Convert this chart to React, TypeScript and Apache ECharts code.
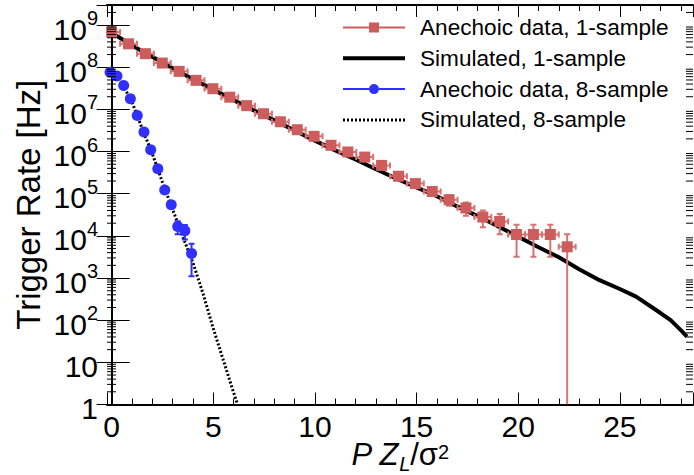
import { useEffect, useRef } from 'react';
import * as echarts from 'echarts';

const FONT = '"Liberation Sans", Arial, Helvetica, sans-serif';

const X_MIN = -0.23;
const X_MAX = 28.6;
const Y_MIN = 1;
const Y_MAX = 3e9;

const NAME_D1 = 'Anechoic data, 1-sample';
const NAME_S1 = 'Simulated, 1-sample';
const NAME_D8 = 'Anechoic data, 8-sample';
const NAME_S8 = 'Simulated, 8-sample';

// Anechoic data, 1-sample
const data1X = [0, 0.83, 1.66, 2.49, 3.32, 4.15, 4.98, 5.81, 6.64, 7.47, 8.3, 9.13, 9.96, 10.79, 11.62, 12.45, 13.28, 14.11, 14.94, 15.77, 16.6, 17.43, 18.26, 19.09, 19.92, 20.75, 21.58, 22.41];
const data1Y = [6.9e8, 3.6e8, 2.1e8, 1.26e8, 8.0e7, 4.9e7, 3.1e7, 1.95e7, 1.23e7, 7.9e6, 5.1e6, 3.3e6, 2.3e6, 1.41e6, 9.8e5, 7.4e5, 4.7e5, 2.6e5, 1.74e5, 1.13e5, 7.2e4, 4.6e4, 2.8e4, 2.2e4, 1.08e4, 1.08e4, 1.08e4, 5.5e3];
const data1YErr = [1.9e6, 1.4e6, 1.1e6, 8.2e5, 6.6e5, 5.1e5, 4.1e5, 3.2e5, 2.6e5, 2.1e5, 1.66e5, 1.33e5, 1.11e5, 8.7e4, 7.3e4, 6.3e4, 5.0e4, 3.7e4, 3.1e4, 2.5e4, 2.0e4, 1.6e4, 1.2e4, 1.1e4, 7.6e3, 7.6e3, 7.6e3, 5.5e3];
const data1XErr = 0.415;

// Simulated, 1-sample
const sim1X = [0, 1, 2, 3, 4, 5, 6, 7, 8, 9, 10, 11, 12, 13, 14, 15, 16, 17, 18, 19, 20, 21, 22, 23, 24, 25, 25.8, 27, 27.5, 28, 28.3];
const sim1Y = [6.6e8, 3.3e8, 1.78e8, 9.5e7, 5.2e7, 2.95e7, 1.66e7, 9.5e6, 5.5e6, 3.16e6, 1.82e6, 1.07e6, 6.5e5, 3.8e5, 2.3e5, 1.41e5, 8.7e4, 5.0e4, 2.95e4, 1.7e4, 9.5e3, 5.4e3, 3.1e3, 1.62e3, 890, 550, 363, 148, 100, 58, 41];

// Anechoic data, 8-sample
const data8X = [-0.08, 0.26, 0.59, 0.92, 1.26, 1.59, 1.92, 2.27, 2.61, 2.93, 3.25, 3.6, 3.93];
const data8Y = [7.6e7, 6.2e7, 3.7e7, 1.8e7, 7.2e6, 2.9e6, 1.1e6, 3.9e5, 1.23e5, 5.5e4, 1.66e4, 1.32e4, 3.8e3];
const data8YErr = [3.8e5, 3.4e5, 2.65e5, 1.85e5, 1.17e5, 7.4e4, 4.6e4, 2.7e4, 1.5e4, 1.0e4, 5.6e3, 5.0e3, 2.7e3];
const data8XErr = 0.167;

// Simulated, 8-sample
const sim8X = [0, 0.5, 1.0, 1.5, 2.0, 2.5, 3.0, 3.5, 4.0, 4.5, 5.0, 5.5, 6.0, 6.4];
const sim8Y = [7.2e7, 4.2e7, 1.5e7, 3.5e6, 8.9e5, 1.86e5, 4.2e4, 9.5e3, 2.3e3, 420, 63, 11, 1.9, 0.5];

const RED = '#cd5c5c';
const RED_ERR = '#d97272';
const BLUE = '#3030ff';

const redIcon = 'path://M0,9H26V11H0Z M36,9H62V11H36Z M26,5H36V15H26Z';
const blackIcon = 'path://M0,0H62V4H0Z';
const blueIcon = 'path://M0,9H26V11H0Z M36,9H62V11H36Z M31,5A5,5,0,1,1,31,15A5,5,0,1,1,31,5Z';
const dottedIcon = 'path://' + Array.from({ length: 16 }, (_, i) => `M${i * 4},0h2v3h-2Z`).join(' ');

function makeErrRender(color: string) {
  return (_params: any, api: any) => {
    const x = api.value(0);
    const y = api.value(1);
    const ex = api.value(2);
    const ey = api.value(3);
    const c = api.coord([x, y]);
    const l = api.coord([x - ex, y]);
    const r = api.coord([x + ex, y]);
    const lowV = y - ey;
    const clamped = lowV <= Y_MIN;
    const t = api.coord([x, y + ey]);
    const b = api.coord([x, clamped ? Y_MIN : lowV]);
    const cap = 3;
    const st = { stroke: color, lineWidth: 2 };
    const ln = (x1: number, y1: number, x2: number, y2: number) => ({
      type: 'line',
      shape: { x1, y1, x2, y2 },
      style: st,
    });
    const children: any[] = [
      ln(l[0], c[1], r[0], c[1]),
      ln(l[0], c[1] - cap, l[0], c[1] + cap),
      ln(r[0], c[1] - cap, r[0], c[1] + cap),
      ln(c[0], t[1], c[0], b[1]),
      ln(c[0] - cap, t[1], c[0] + cap, t[1]),
    ];
    if (!clamped) children.push(ln(c[0] - cap, b[1], c[0] + cap, b[1]));
    return { type: 'group', children };
  };
}

export default function App() {
  const ref = useRef<HTMLDivElement>(null);

  useEffect(() => {
    if (!ref.current) return;
    const chart = echarts.init(ref.current, undefined, { renderer: 'svg' });

    const minorVals: number[] = [];
    for (let d = 0; d <= 9; d++) {
      for (let m = 2; m <= 9; m++) {
        const v = m * Math.pow(10, d);
        if (v < Y_MAX) minorVals.push(v);
      }
    }

    const yLabelFormatter = (v: number) => {
      const lg = Math.log10(v);
      const e = Math.round(lg);
      if (Math.abs(lg - e) > 0.01) return '';
      if (e === 0) return '1';
      if (e === 1) return '10';
      return `10{sup|${e}}`;
    };
    const xLabelFormatter = (v: number) => {
      const k = v / 5;
      if (Math.abs(k - Math.round(k)) > 1e-6) return '';
      return String(Math.round(v));
    };

    const tickLine = { color: '#000', width: 1 };
    const axisLine = { show: true, lineStyle: { color: '#000', width: 2 } };

    const option: any = {
      animation: false,
      backgroundColor: '#fff',
      grid: { left: 107, right: 1, top: 5, bottom: 70.5, containLabel: false, outerBoundsMode: 'none' },
      legend: {
        orient: 'vertical',
        left: 343,
        top: 16,
        padding: 0,
        itemGap: 7.8,
        itemWidth: 62,
        itemHeight: 20,
        selectedMode: false,
        itemStyle: { borderWidth: 0 },
        textStyle: { fontSize: 22.6, fontFamily: FONT, color: '#000', padding: [0, 0, 0, 10] },
        data: [
          { name: NAME_D1, icon: redIcon },
          { name: NAME_S1, icon: blackIcon },
          { name: NAME_D8, icon: blueIcon },
          { name: NAME_S8, icon: dottedIcon },
        ],
      },
      xAxis: [
        {
          type: 'value',
          position: 'bottom',
          min: X_MIN,
          max: X_MAX,
          name: '{i|P Z}{sub|L}/σ{sup|2}',
          nameLocation: 'middle',
          nameGap: 31,
          nameMoveOverlap: false,
          nameTextStyle: {
            fontSize: 31,
            fontFamily: FONT,
            color: '#000',
            rich: {
              i: { fontSize: 31, fontFamily: FONT, fontStyle: 'italic', color: '#000' },
              sub: { fontSize: 20, fontFamily: FONT, fontStyle: 'italic', color: '#000', verticalAlign: 'bottom', padding: [18, 0, 0, 0] },
              sup: { fontSize: 20, fontFamily: FONT, color: '#000', verticalAlign: 'middle', padding: [0, 0, 6, 0] },
            },
          },
          axisLine,
          axisTick: { show: true, inside: true, length: 12, lineStyle: tickLine },
          minorTick: { show: true, splitNumber: 5, length: 6, lineStyle: tickLine },
          splitLine: { show: false },
          minorSplitLine: { show: false },
          axisLabel: { show: true, margin: 7, fontSize: 30, fontFamily: FONT, color: '#000', formatter: xLabelFormatter },
        },
        {
          type: 'value',
          position: 'top',
          min: X_MIN,
          max: X_MAX,
          axisLine,
          axisTick: { show: true, inside: true, length: 12, lineStyle: tickLine },
          minorTick: { show: true, splitNumber: 5, length: 6, lineStyle: tickLine },
          splitLine: { show: false },
          axisLabel: { show: false },
        },
      ],
      yAxis: [
        {
          type: 'log',
          logBase: 10,
          position: 'left',
          min: Y_MIN,
          max: Y_MAX,
          splitNumber: 10,
          name: 'Trigger Rate [Hz]',
          nameLocation: 'middle',
          nameRotate: 90,
          nameGap: 62,
          nameMoveOverlap: false,
          nameTextStyle: { fontSize: 33, fontFamily: FONT, color: '#000' },
          axisLine,
          axisTick: { show: true, inside: true, length: 18, lineStyle: tickLine },
          minorTick: { show: false },
          splitLine: { show: false },
          axisLabel: {
            show: true,
            margin: 9,
            fontSize: 30,
            fontFamily: FONT,
            color: '#000',
            padding: [8, 0, 0, 0],
            formatter: yLabelFormatter,
            rich: {
              sup: { fontSize: 20, fontFamily: FONT, color: '#000', verticalAlign: 'top', padding: [0, 0, 22, 0] },
            },
          },
        },
        {
          type: 'log',
          logBase: 10,
          position: 'right',
          min: Y_MIN,
          max: Y_MAX,
          splitNumber: 10,
          axisLine,
          axisTick: { show: true, inside: true, length: 15, lineStyle: tickLine },
          minorTick: { show: false },
          splitLine: { show: false },
          axisLabel: { show: false },
        },
      ],
      series: [
        {
          name: NAME_S1,
          type: 'line',
          z: 2,
          data: sim1X.map((x, i) => [x, sim1Y[i]]),
          symbol: 'none',
          showSymbol: false,
          clip: true,
          lineStyle: { color: '#000', width: 4 },
          itemStyle: { color: '#000' },
        },
        {
          name: NAME_S8,
          type: 'line',
          z: 2,
          data: sim8X.map((x, i) => [x, sim8Y[i]]),
          symbol: 'none',
          showSymbol: false,
          clip: true,
          lineStyle: { color: '#000', width: 3, type: [2, 2], cap: 'butt' },
          itemStyle: { color: '#000' },
        },
        {
          name: 'err1',
          type: 'custom',
          z: 3,
          clip: true,
          silent: true,
          data: data1X.map((x, i) => [x, data1Y[i], data1XErr, data1YErr[i]]),
          renderItem: makeErrRender(RED_ERR),
        },
        {
          name: 'err8',
          type: 'custom',
          z: 3,
          clip: true,
          silent: true,
          data: data8X.map((x, i) => [x, data8Y[i], data8XErr, data8YErr[i]]),
          renderItem: makeErrRender(BLUE),
        },
        {
          name: NAME_D1,
          type: 'scatter',
          z: 4,
          symbol: 'rect',
          symbolSize: 11,
          itemStyle: { color: RED, opacity: 1 },
          data: data1X.map((x, i) => [x, data1Y[i]]),
        },
        {
          name: NAME_D8,
          type: 'scatter',
          z: 4,
          symbol: 'circle',
          symbolSize: 11,
          itemStyle: { color: BLUE, opacity: 1 },
          data: data8X.map((x, i) => [x, data8Y[i]]),
        },
        {
          name: 'minorTicks',
          type: 'custom',
          z: 5,
          silent: true,
          data: minorVals.map((v) => [X_MIN, v]),
          renderItem: (_p: any, api: any) => {
            const v = api.value(1);
            const l = api.coord([X_MIN, v]);
            const r = api.coord([X_MAX, v]);
            const st = { stroke: '#000', lineWidth: 1 };
            return {
              type: 'group',
              children: [
                { type: 'line', shape: { x1: l[0], y1: l[1], x2: l[0] + 9, y2: l[1] }, style: st },
                { type: 'line', shape: { x1: r[0] - 7, y1: r[1], x2: r[0], y2: r[1] }, style: st },
              ],
            };
          },
        },
      ],
    };

    chart.setOption(option);
    return () => chart.dispose();
  }, []);

  return (
    <div
      ref={ref}
      style={{ position: 'fixed', left: 0, top: 0, width: 694, height: 475, background: '#fff' }}
    />
  );
}
